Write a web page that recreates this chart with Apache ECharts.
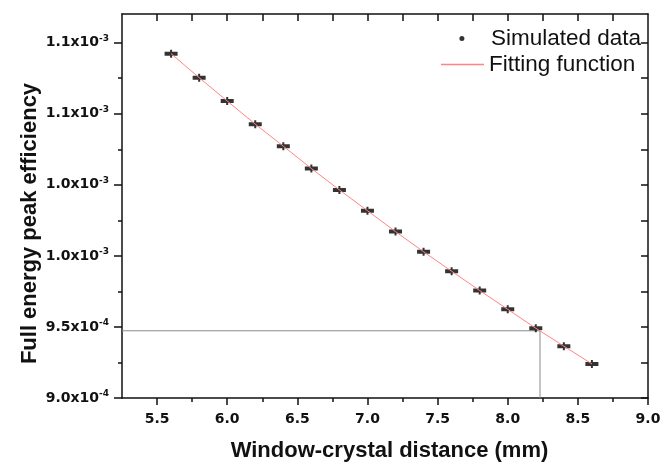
<!DOCTYPE html>
<html>
<head>
<meta charset="utf-8">
<script src="https://cdn.jsdelivr.net/npm/echarts@6/dist/echarts.min.js"></script>
<style>
html,body{margin:0;padding:0;background:#fff;}
#chart{width:672px;height:467px;}
</style>
</head>
<body>
<div id="chart"></div>
<script>
// ---- data ----
const distance = [5.6, 5.8, 6.0, 6.2, 6.4, 6.6, 6.8, 7.0, 7.2, 7.4, 7.6, 7.8, 8.0, 8.2, 8.4, 8.6];
const efficiency = [1.1423e-3, 1.1254e-3, 1.1090e-3, 1.0927e-3, 1.0772e-3, 1.0615e-3, 1.0464e-3, 1.0318e-3,
                    1.0171e-3, 1.0029e-3, 0.9892e-3, 0.9756e-3, 0.9624e-3, 0.9491e-3, 0.9365e-3, 0.9240e-3];
const fitEfficiency = [1.1423e-3, 1.1254e-3, 1.1090e-3, 1.0927e-3, 1.0772e-3, 1.0615e-3, 1.0464e-3, 1.0318e-3,
                       1.0171e-3, 1.0029e-3, 0.9892e-3, 0.9756e-3, 0.9624e-3, 0.9491e-3, 0.9365e-3, 0.9240e-3];
const readDistance = 8.23;
const readEfficiency = 9.473e-4;

const xTickValues = [5.5, 6.0, 6.5, 7.0, 7.5, 8.0, 8.5, 9.0];
const xTickLabels = ['5.5', '6.0', '6.5', '7.0', '7.5', '8.0', '8.5', '9.0'];
const xMinorTicks = [5.75, 6.25, 6.75, 7.25, 7.75, 8.25, 8.75];
const yTickValues = [9.0e-4, 9.5e-4, 1.0e-3, 1.05e-3, 1.10e-3, 1.15e-3];
const yTickMantissa = ['9.0', '9.5', '1.0', '1.0', '1.1', '1.1'];
const yTickExponent = ['-4', '-4', '-3', '-3', '-3', '-3'];
const yMinorTicks = [9.25e-4, 9.75e-4, 1.025e-3, 1.075e-3, 1.125e-3];

const xTitle = 'Window-crystal distance (mm)';
const yTitle = 'Full energy peak efficiency';

const xMin = 5.25, xMax = 9.0, yMin = 9.0e-4, yMax = 1.1702e-3;

// ---- chart ----
const chart = echarts.init(document.getElementById('chart'), null, {renderer: 'canvas'});
const tickFont = 'DejaVu Sans';
const titleFont = 'Liberation Sans';

function nearestIdx(arr, v) {
  let best = 0;
  for (let i = 1; i < arr.length; i++) if (Math.abs(arr[i] - v) < Math.abs(arr[best] - v)) best = i;
  return best;
}

const axisLineStyle = {color: '#111', width: 1.5};
const xAllTicks = xTickValues.concat(xMinorTicks).filter(v => v < xMax);
const yAllTicks = yTickValues.concat(yMinorTicks);

const option = {
  backgroundColor: '#ffffff',
  animation: false,
  grid: {left: 122, right: 24, top: 14, bottom: 66, containLabel: false},
  graphic: [
    {
      type: 'text', rotation: Math.PI / 2,
      x: 30, y: 223.5,
      style: {
        text: yTitle, fontFamily: titleFont, fontSize: 22, fontWeight: 'bold', fill: '#111',
        textAlign: 'center', textVerticalAlign: 'middle'
      }
    }
  ],
  legend: [
    {
      data: [{name: 'Simulated data', icon: 'circle'}],
      left: 454.4, top: 22,
      itemWidth: 48, itemHeight: 5,
      textStyle: {fontFamily: titleFont, fontSize: 22.5, color: '#111'}
    },
    {
      data: [{name: 'Fitting function', icon: 'rect'}],
      left: 436, top: 48,
      itemWidth: 43, itemHeight: 1.5,
      textStyle: {fontFamily: titleFont, fontSize: 22.5, color: '#111'}
    }
  ],
  xAxis: [
    {
      type: 'value', position: 'bottom', min: xMin, max: xMax,
      name: xTitle, nameLocation: 'middle', nameGap: 42,
      nameTextStyle: {fontFamily: titleFont, fontSize: 22, fontWeight: 'bold', color: '#111', padding: [0, 0, 0, 9]},
      axisLine: {show: true, onZero: false, lineStyle: axisLineStyle},
      axisTick: {show: true, inside: false, length: 7, customValues: xTickValues, lineStyle: {color: '#111', width: 1.5}},
      axisLabel: {
        show: true, margin: 14, customValues: xTickValues,
        fontFamily: tickFont, fontSize: 14, fontWeight: 'bold', color: '#111',
        formatter: v => xTickLabels[nearestIdx(xTickValues, v)]
      },
      splitLine: {show: false}
    },
    {
      type: 'value', position: 'bottom', min: xMin, max: xMax,
      axisLine: {show: false, onZero: false},
      axisTick: {show: true, inside: false, length: 4, customValues: xMinorTicks, lineStyle: {color: '#111', width: 1.5}},
      axisLabel: {show: false},
      splitLine: {show: false}
    },
    {
      type: 'value', position: 'top', min: xMin, max: xMax,
      axisLine: {show: true, onZero: false, lineStyle: axisLineStyle},
      axisTick: {show: true, inside: true, length: 7, customValues: xAllTicks, lineStyle: {color: '#111', width: 1.5}},
      axisLabel: {show: false},
      splitLine: {show: false}
    }
  ],
  yAxis: [
    {
      type: 'value', position: 'left', min: yMin, max: yMax,
      axisLine: {show: true, onZero: false, lineStyle: axisLineStyle},
      axisTick: {show: true, inside: false, length: 8, customValues: yTickValues, lineStyle: {color: '#111', width: 1.5}},
      axisLabel: {
        show: true, margin: 13, customValues: yTickValues,
        formatter: v => {
          const i = nearestIdx(yTickValues, v);
          return '{m|' + yTickMantissa[i] + 'x10}{e|' + yTickExponent[i] + '}';
        },
        rich: {
          m: {fontFamily: tickFont, fontSize: 14, fontWeight: 'bold', color: '#111'},
          e: {fontFamily: tickFont, fontSize: 9, fontWeight: 'bold', color: '#111', padding: [0, 0, 9, 0]}
        }
      },
      splitLine: {show: false}
    },
    {
      type: 'value', position: 'left', min: yMin, max: yMax,
      axisLine: {show: false, onZero: false},
      axisTick: {show: true, inside: false, length: 4, customValues: yMinorTicks, lineStyle: {color: '#111', width: 1.5}},
      axisLabel: {show: false},
      splitLine: {show: false}
    },
    {
      type: 'value', position: 'right', min: yMin, max: yMax,
      axisLine: {show: true, onZero: false, lineStyle: axisLineStyle},
      axisTick: {show: true, inside: true, length: 7, customValues: yAllTicks, lineStyle: {color: '#111', width: 1.5}},
      axisLabel: {show: false},
      splitLine: {show: false}
    }
  ],
  series: [
    {
      name: 'Read-off', type: 'line', xAxisIndex: 0, yAxisIndex: 0,
      data: [[xMin, readEfficiency], [readDistance, readEfficiency], [readDistance, yMin]],
      showSymbol: false, symbol: 'none', silent: true,
      lineStyle: {color: '#8a8a8a', width: 1}, z: 1
    },
    {
      name: 'Simulated data', type: 'scatter', xAxisIndex: 0, yAxisIndex: 0,
      data: distance.map((d, i) => [d, efficiency[i]]),
      symbol: 'path://M0,2h13v4H0z M5.5,0h2v8h-2z', symbolSize: [13, 8],
      itemStyle: {color: '#000'}, z: 2
    },
    {
      name: 'Fitting function', type: 'line', xAxisIndex: 0, yAxisIndex: 0,
      data: distance.map((d, i) => [d, fitEfficiency[i]]),
      showSymbol: false, symbol: 'none',
      lineStyle: {color: '#ff8585', width: 1}, itemStyle: {color: '#ff8585'}, z: 3
    }
  ]
};
chart.setOption(option);
</script>
</body>
</html>
